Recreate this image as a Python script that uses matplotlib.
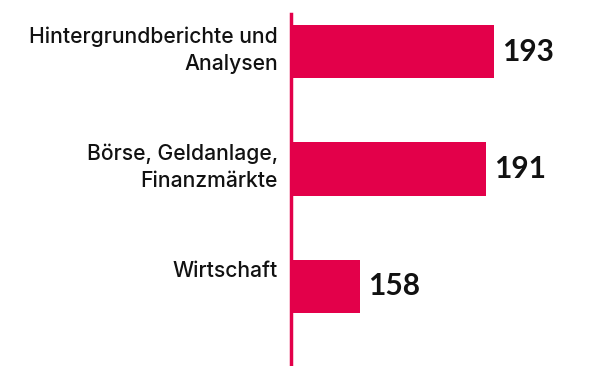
import matplotlib.pyplot as plt

categories = ['Hintergrundberichte und\nAnalysen', 'Börse, Geldanlage,\nFinanzmärkte', 'Wirtschaft']
values = [193, 191, 158]

red = '#E3004A'

fig = plt.figure(figsize=(5.96, 3.66), dpi=100)
ax = fig.add_axes([291 / 596, 0, 305 / 596, 352 / 366])

pos = list(range(len(categories)))
ax.barh(pos, values, height=0.455, color=red, zorder=2)

ax.set_xlim(140, 219.7)
ax.set_ylim(2.68, -0.32)

for y, v, name in zip(pos, values, categories):
    # value next to the bar end
    ax.text(v + 2.1, y, str(v), va='center', ha='left',
            fontsize=21.5, fontweight='bold', family='Lato', color='#111111')
    # category name, right aligned against the axis line
    ax.annotate(name, xy=(0, y - 0.215), xycoords=('axes fraction', 'data'),
                xytext=(-13, 0), textcoords='offset pixels',
                ha='right', va='top', fontsize=15.2, family='Inter',
                fontweight='medium', color='#111111', linespacing=1.45)

for s in ['top', 'right', 'bottom']:
    ax.spines[s].set_visible(False)
ax.spines['left'].set_color(red)
ax.spines['left'].set_linewidth(2.5)
ax.set_xticks([])
ax.set_yticks([])
ax.patch.set_alpha(0)

fig.savefig('out.png', dpi=100)
